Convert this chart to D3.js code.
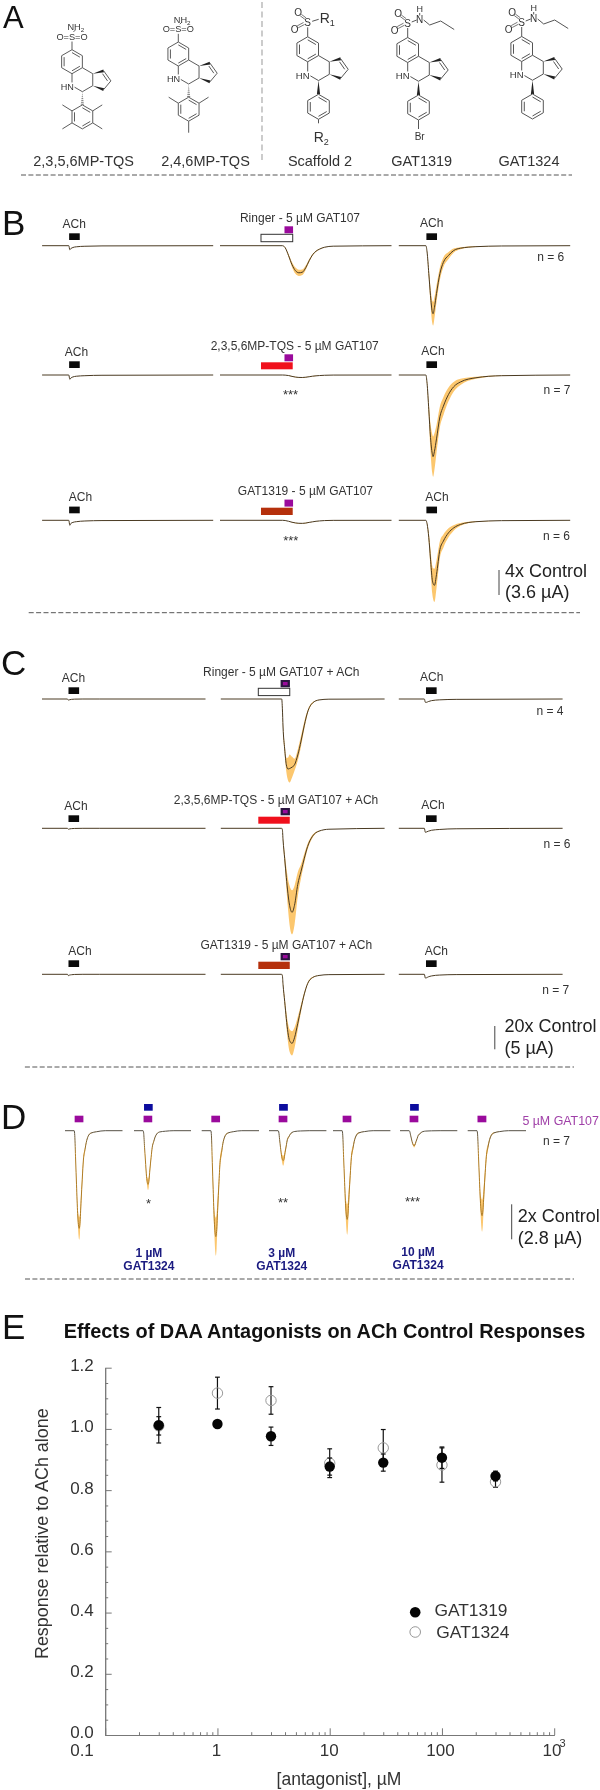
<!DOCTYPE html>
<html>
<head>
<meta charset="utf-8">
<script src="https://cdn.jsdelivr.net/npm/d3@7"></script>
<style>
  html, body { margin: 0; padding: 0; background: #fff; }
  svg { display: block; font-family: "Liberation Sans", Arial, sans-serif; filter: blur(0.3px); }
</style>
</head>
<body>
<div id="chart"></div>
<script>
// ---- panel E: dose response ----
const concentrations = [0.3, 1, 3, 10, 30, 100, 300];
const gat1319Mean = [1.012, 1.016, 0.976, 0.877, 0.890, 0.906, 0.846];
const gat1319Err  = [0.058, 0.010, 0.030, 0.028, 0.028, 0.035, 0.016];
const gat1324Mean = [1.010, 1.117, 1.093, 0.888, 0.938, 0.882, 0.827];
const gat1324Err  = [0.030, 0.052, 0.045, 0.047, 0.060, 0.056, 0.018];
const yMajorTicks = [0, 0.2, 0.4, 0.6, 0.8, 1.0, 1.2];
const yMinorTicks = [0.05, 0.1, 0.15, 0.25, 0.3, 0.35, 0.45, 0.5, 0.55, 0.65, 0.7, 0.75, 0.85, 0.9, 0.95, 1.05, 1.1, 1.15];
const xMajorTicks = [0.1, 1, 10, 100, 1000];
const xTickLabels = ["0.1", "1", "10", "100", "10"];
const xMinorTicks = [0.2, 0.3, 0.4, 0.5, 0.6, 0.7, 0.8, 0.9, 2, 3, 4, 5, 6, 7, 8, 9, 20, 30, 40, 50, 60, 70, 80, 90, 200, 300, 400, 500, 600, 700, 800, 900];

// ---- current traces, time in % of sweep, current in uA ----
const tNotch = [0, 15.6, 16.2, 16.8, 18, 20, 25, 35, 100];
const bAch1 = [0, 0, 0.58, 0.42, 0.26, 0.16, 0.08, 0.03, 0];
const bAch2 = [0, 0, 0.62, 0.44, 0.28, 0.18, 0.10, 0.04, 0];
const bAch3 = [0, 0, 0.72, 0.46, 0.30, 0.20, 0.10, 0.04, 0];
const cAch1 = [0, 0, 0.26, 0.16, 0.08, 0.03, 0, 0, 0];
const cAch2 = [0, 0, 0.22, 0.14, 0.07, 0.03, 0, 0, 0];
const cAch3 = [0, 0, 0.30, 0.18, 0.09, 0.03, 0, 0, 0];
const cEnd1 = [0, 0, 0.70, 0.72, 0.55, 0.35, 0.18, 0.08, 0];
const cEnd2 = [0, 0, 0.85, 0.80, 0.62, 0.42, 0.25, 0.10, 0];
const cEnd3 = [0, 0, 0.80, 0.76, 0.55, 0.35, 0.16, 0.06, 0];
const semNone = [0, 0, 0, 0, 0, 0, 0, 0, 0];

const tB2 = [0, 36.5, 38, 40, 42, 44, 46, 48, 50, 52, 54, 56, 58, 61, 66, 100];
const bGat1 = [0, 0, 0.29, 1.44, 2.74, 3.60, 3.90, 3.82, 3.17, 2.16, 1.30, 0.79, 0.50, 0.22, 0.07, 0];
const bGat1Sem = [0, 0, 0.05, 0.20, 0.35, 0.45, 0.45, 0.40, 0.30, 0.20, 0.12, 0.08, 0.05, 0.02, 0, 0];
const bGat2 = [0, 0, 0.02, 0.08, 0.20, 0.30, 0.35, 0.36, 0.32, 0.25, 0.17, 0.12, 0.08, 0.04, 0.01, 0];
const bGat3 = [0, 0, 0.03, 0.14, 0.28, 0.38, 0.43, 0.44, 0.40, 0.30, 0.22, 0.14, 0.09, 0.04, 0.01, 0];
const bGatSmallSem = [0, 0, 0, 0.01, 0.02, 0.03, 0.03, 0.03, 0.03, 0.02, 0.02, 0.01, 0, 0, 0, 0];

const tB3 = [0, 15.8, 16.5, 17.5, 18.5, 19.5, 20, 20.8, 22, 24, 26, 29, 32, 36, 45, 60, 100];
const bCtl1 = [0, 0, 0.9, 4.0, 7.2, 9.5, 9.8, 8.9, 6.9, 4.0, 2.4, 1.4, 0.7, 0.36, 0.14, 0.04, 0];
const bCtl1Sem = [0, 0, 0.15, 0.7, 1.2, 1.6, 1.7, 1.5, 1.2, 0.9, 0.7, 0.5, 0.3, 0.15, 0.05, 0, 0];
const bCtl2 = [0, 0, 1.2, 5.0, 9.0, 11.3, 11.76, 11.0, 9.2, 6.0, 4.5, 2.8, 1.7, 1.0, 0.4, 0.1, 0];
const bCtl2Sem = [0, 0, 0.25, 1.0, 2.0, 2.8, 2.9, 2.6, 2.0, 1.5, 1.3, 1.0, 0.7, 0.45, 0.15, 0.03, 0];
const bCtl3 = [0, 0, 0.5, 2.5, 5.6, 8.5, 9.1, 9.37, 7.8, 4.2, 3.0, 1.8, 1.1, 0.6, 0.2, 0.05, 0];
const bCtl3Sem = [0, 0, 0.15, 0.7, 1.4, 2.0, 2.2, 2.4, 2.0, 1.2, 0.95, 0.65, 0.4, 0.2, 0.06, 0, 0];

const tC2 = [0, 37.2, 37.6, 38, 39, 40, 41, 42, 43.5, 45, 47, 49, 51, 53, 56, 60, 66, 100];
const cGat1 = [0, 0, 2.1, 6.0, 10.7, 14.1, 15.0, 14.9, 14.6, 14.1, 12.0, 9.0, 5.6, 2.8, 0.86, 0.2, 0.04, 0];
const cGat1Sem = [0, 0, 0.2, 0.6, 1.0, 1.5, 2.4, 3.0, 2.2, 1.3, 1.2, 1.1, 0.8, 0.4, 0.15, 0.04, 0, 0];
const cGat2 = [0, 0, 0.3, 2.5, 6.5, 10.5, 14.0, 16.5, 18.0, 16.5, 12.0, 9.2, 6.4, 3.9, 1.7, 0.6, 0.2, 0];
const cGat2Sem = [0, 0, 0.1, 0.5, 1.2, 2.2, 3.2, 4.2, 4.7, 4.2, 2.6, 1.5, 1.0, 0.6, 0.3, 0.1, 0, 0];
const cGat3 = [0, 0, 0.3, 2.2, 5.8, 9.5, 12.5, 14.2, 14.8, 13.6, 10.5, 7.2, 4.2, 2.0, 0.7, 0.25, 0.07, 0];
const cGat3Sem = [0, 0, 0.1, 0.4, 0.9, 1.5, 2.0, 2.4, 2.6, 2.2, 1.4, 0.8, 0.4, 0.2, 0.1, 0.03, 0, 0];

const tD = [0, 16, 17, 18.5, 20, 22, 24.7, 26, 28, 30, 32, 34.7, 37, 40, 45, 55, 70, 100];
const dCtl1 = [0, 0, 0.38, 2.3, 4.2, 6.5, 7.66, 7.3, 5.5, 3.8, 2.3, 1.5, 0.92, 0.46, 0.19, 0.08, 0, 0];
const dAnt1 = [0, 0, 0.20, 1.3, 2.3, 3.6, 4.21, 4.0, 3.0, 2.1, 1.3, 0.84, 0.5, 0.25, 0.1, 0.04, 0, 0];
const dCtl2 = [0, 0, 0.40, 2.5, 4.6, 7.1, 8.31, 7.9, 6.0, 4.2, 2.5, 1.7, 1.0, 0.5, 0.2, 0.08, 0, 0];
const dAnt2 = [0, 0, 0.10, 0.7, 1.3, 2.0, 2.35, 2.25, 1.7, 1.2, 0.7, 0.47, 0.28, 0.14, 0.06, 0.02, 0, 0];
const dCtl3 = [0, 0, 0.35, 2.1, 3.8, 5.9, 6.96, 6.6, 5.0, 3.5, 2.1, 1.4, 0.84, 0.42, 0.17, 0.07, 0, 0];
const dAnt3 = [0, 0, 0.06, 0.35, 0.65, 1.0, 1.18, 1.12, 0.85, 0.6, 0.35, 0.24, 0.14, 0.07, 0.03, 0.01, 0, 0];
const dCtl4 = [0, 0, 0.33, 2.0, 3.7, 5.7, 6.67, 6.3, 4.8, 3.3, 2.0, 1.3, 0.8, 0.4, 0.17, 0.07, 0, 0];
const dCtl1Sem = [0, 0, 0.03, 0.13, 0.27, 0.53, 0.89, 0.8, 0.53, 0.36, 0.27, 0.18, 0.11, 0.05, 0.03, 0.01, 0, 0];
const dAnt1Sem = [0, 0, 0.01, 0.07, 0.13, 0.26, 0.44, 0.4, 0.26, 0.18, 0.13, 0.09, 0.05, 0.03, 0.01, 0, 0, 0];
const dCtl2Sem = [0, 0, 0.04, 0.22, 0.45, 0.9, 1.49, 1.34, 0.9, 0.6, 0.45, 0.3, 0.18, 0.09, 0.04, 0.01, 0, 0];
const dAnt2Sem = [0, 0, 0.01, 0.06, 0.12, 0.23, 0.39, 0.35, 0.23, 0.16, 0.12, 0.08, 0.05, 0.02, 0.01, 0, 0, 0];
const dCtl3Sem = [0, 0, 0.04, 0.18, 0.36, 0.72, 1.2, 1.08, 0.72, 0.48, 0.36, 0.24, 0.14, 0.07, 0.04, 0.01, 0, 0];
const dAnt3Sem = [0, 0, 0, 0.02, 0.04, 0.08, 0.13, 0.12, 0.08, 0.05, 0.04, 0.03, 0.02, 0.01, 0, 0, 0, 0];
const dCtl4Sem = [0, 0, 0.04, 0.19, 0.38, 0.75, 1.25, 1.12, 0.75, 0.5, 0.38, 0.25, 0.15, 0.08, 0.04, 0.01, 0, 0];

const dConcLabels = ["1 µM", "3 µM", "10 µM"];

const BLACK = "#0a0a0a", PURPLE = "#9a0a9c", RED = "#f0101c", BROWN = "#b5300c", BLUE = "#0c0c9e", NAVY = "#2a1440";
const SEM = "#fcc76e", TRACE = "#4a3a22", INK = "#333";

const svg = d3.select("#chart").append("svg").attr("width", 600).attr("height", 1790);
svg.append("rect").attr("width", 600).attr("height", 1790).attr("fill", "#fff");

// panel D traces fade from a dark baseline to the orange band deeper down
const fade = svg.append("defs").append("linearGradient").attr("id", "dFade")
  .attr("gradientUnits", "userSpaceOnUse").attr("x1", 0).attr("x2", 0).attr("y1", 0).attr("y2", 22);
fade.append("stop").attr("offset", 0).attr("stop-color", "#555045");
fade.append("stop").attr("offset", 1).attr("stop-color", "#ae7c26");

function txt(x, y, s, size, opts) {
  opts = opts || {};
  return svg.append("text").attr("x", x).attr("y", y).attr("dy", opts.dy || "0.35em")
    .attr("text-anchor", opts.anchor || "middle")
    .attr("font-size", size).attr("font-weight", opts.weight || null)
    .attr("fill", opts.fill || INK).text(s);
}

function dashed(x1, x2, y) {
  svg.append("line").attr("x1", x1).attr("x2", x2).attr("y1", y).attr("y2", y)
    .attr("stroke", "#555").attr("stroke-width", 1).attr("stroke-dasharray", "5,2.4");
}

function scaleBar(x, y1, y2, label1, label2, lx, ly1, ly2) {
  svg.append("line").attr("x1", x).attr("x2", x).attr("y1", y1).attr("y2", y2).attr("stroke", "#444").attr("stroke-width", 1);
  txt(lx, ly1, label1, 18, { anchor: "start", fill: "#222" });
  txt(lx, ly2, label2, 18, { anchor: "start", fill: "#222" });
}

function drawTrace(g, x, y, t, mean, sem, lineColor) {
  const rows = t.map((d, i) => ({ t: d, m: mean[i], s: sem[i] }));
  const area = d3.area().curve(d3.curveMonotoneX)
    .x(d => x(d.t)).y0(d => y(d.m - d.s)).y1(d => y(d.m + d.s));
  const line = d3.line().curve(d3.curveMonotoneX).x(d => x(d.t)).y(d => y(d.m));
  g.append("path").attr("d", area(rows)).attr("fill", SEM);
  g.append("path").attr("d", line(rows)).attr("fill", "none").attr("stroke", lineColor || TRACE).attr("stroke-width", 1);
}

// drug application bar, t0/t1 in sweep %, y in px from the baseline
function bar(g, x, t0, t1, y0, y1, fill, stroke) {
  g.append("rect").attr("x", x(t0)).attr("width", x(t1) - x(t0)).attr("y", y0).attr("height", y1 - y0)
    .attr("fill", fill).attr("stroke", stroke || "none").attr("stroke-width", stroke ? 1 : 0);
}

// ---- panel letters ----
[["A", 3, 17, 31], ["B", 2, 222.5, 35], ["C", 1, 662.5, 35], ["D", 1, 1116.5, 35], ["E", 2, 1326.5, 35]].forEach(d => {
  txt(d[1], d[2], d[0], d[3], { anchor: "start", fill: "#111" });
});

// ---- panel A: structures ----
const bondColor = "#555";
function drawMolecule(cx, cy, k, m) {
  const g = svg.append("g").attr("transform", `translate(${cx},${cy}) scale(${k})`);
  const bond = (a, b, w) => g.append("line").attr("x1", a[0]).attr("y1", a[1]).attr("x2", b[0]).attr("y2", b[1])
    .attr("stroke", bondColor).attr("stroke-width", w || 1);
  const ring = (ox, oy, doubles) => {
    const pts = [[0, -12.5], [10.8, -6.25], [10.8, 6.25], [0, 12.5], [-10.8, 6.25], [-10.8, -6.25]].map(p => [p[0] + ox, p[1] + oy]);
    pts.forEach((p, i) => bond(p, pts[(i + 1) % 6]));
    doubles.forEach(i => {
      const a = pts[i], b = pts[(i + 1) % 6];
      const inner = q => [ox + (q[0] - ox) * 0.76, oy + (q[1] - oy) * 0.76];
      bond(inner(a), inner(b));
    });
  };
  const wedge = (a, b, wide) => {
    const dx = b[0] - a[0], dy = b[1] - a[1], len = Math.hypot(dx, dy);
    const nx = -dy / len * wide, ny = dx / len * wide;
    g.append("path").attr("d", `M${a[0]},${a[1]}L${b[0] + nx},${b[1] + ny}L${b[0] - nx},${b[1] - ny}Z`).attr("fill", "#222");
  };
  const label = (x, y, s, size, halo) => {
    const t = g.append("text").attr("x", x).attr("y", y).attr("dy", "0.35em").attr("text-anchor", "middle")
      .attr("font-size", size).attr("fill", "#333").text(s);
    if (halo) t.attr("stroke", "#fff").attr("stroke-width", 3).attr("paint-order", "stroke");
    return t;
  };

  ring(0, 0, [0, 2, 4]);
  // piperidine ring and cyclopentene
  [[[10.8, 6.25], [21.6, 12.5]], [[21.6, 12.5], [21.6, 25]], [[21.6, 25], [10.8, 31.25]], [[10.8, 31.25], [0, 25]], [[0, 25], [0, 12.5]]]
    .forEach(b => bond(b[0], b[1]));
  wedge([21.6, 12.5], [33, 9.5], 1.5);
  wedge([21.6, 25], [33, 29], 1.5);
  bond([33, 9.5], [40.5, 20]);
  bond([31.8, 12.5], [37, 20]);
  bond([40.5, 20], [33, 29]);
  label(-5, 26, "HN", 9.5, true);

  // aryl substituent at C4
  if (m.hashed) {
    [0.1, 0.25, 0.4, 0.55, 0.7, 0.85, 1].forEach(f => {
      bond([10.8 - f * 1.6, 31.25 + f * 13], [10.8 + f * 1.6, 31.25 + f * 13], 0.8);
    });
  } else {
    wedge([10.8, 31.25], [10.8, 45], 1.6);
  }
  ring(10.8, 57.5, [0, 2, 4]);
  (m.methyls || []).forEach(v => bond(v[0], v[1]));

  // sulfonyl group
  if (m.sulfamide) {
    label(0, -26, "O=S=O", 9.6);
    bond([0, -21], [0, -12.5]);
    bond([1.5, -31], [3.5, -33]);
    g.append("text").attr("x", 4).attr("y", -36).attr("dy", "0.35em").attr("text-anchor", "middle")
      .attr("font-size", 9.6).attr("fill", "#333").text("NH").append("tspan").attr("font-size", 6.5).attr("dy", "0.3em").text("2");
  } else {
    bond([0, -22], [0, -12.5]);
    label(0, -27, "S", 10);
    [[[-2.8, -30], [-7.5, -33.5]], [[-1.6, -31.4], [-6.4, -35]], [[-3.2, -24.8], [-9.5, -21.5]], [[-4.2, -26.8], [-10.5, -23.4]]].forEach(b => bond(b[0], b[1], 0.8));
    label(-9.5, -36.5, "O", 10);
    label(-13, -20, "O", 10);
    if (m.r1) {
      bond([4.5, -28], [11, -30]);
      g.append("text").attr("x", 12).attr("y", -31).attr("dy", "0.35em").attr("font-size", 14).attr("fill", "#333")
        .text("R").append("tspan").attr("font-size", 9).attr("dy", "0.3em").text("1");
    } else {
      bond([4, -28], [9, -30]);
      label(12, -31, "N", 10);
      label(12, -41, "H", 9);
      bond([12, -34.5], [12, -37]);
      bond([16, -30], [22, -25]);
      bond([22, -25], [33, -29]);
      bond([33, -29], [46.5, -20.5]);
    }
  }
  if (m.r2) {
    bond([10.8, 70], [10.8, 74]);
    g.append("text").attr("x", 6).attr("y", 88).attr("dy", "0.35em").attr("font-size", 14).attr("fill", "#333")
      .text("R").append("tspan").attr("font-size", 9).attr("dy", "0.3em").text("2");
  }
  if (m.br) {
    bond([10.8, 70], [10.8, 79]);
    label(12, 86, "Br", 10);
  }
}

const tetraMethyl = [[[0, 51.25], [-10, 45]], [[21.6, 51.25], [31.5, 45]], [[21.6, 63.75], [31.5, 70]], [[0, 63.75], [-10, 70]]];
const triMethyl = [[[0, 51.25], [-10, 45]], [[21.6, 51.25], [31.5, 45]], [[10.8, 70], [10.8, 82]]];
drawMolecule(72, 61.7, 0.96, { sulfamide: true, hashed: true, methyls: tetraMethyl });
drawMolecule(178.3, 54, 0.96, { sulfamide: true, hashed: true, methyls: triMethyl });
drawMolecule(307.7, 49.3, 1, { r1: true, r2: true });
drawMolecule(407.7, 50, 1, { br: true });
drawMolecule(521.7, 49, 1, {});

svg.append("line").attr("x1", 262).attr("x2", 262).attr("y1", 2).attr("y2", 163)
  .attr("stroke", "#aaa").attr("stroke-width", 1.2).attr("stroke-dasharray", "6,3.5");

[["2,3,5,6MP-TQS", 83.6], ["2,4,6MP-TQS", 205.5], ["Scaffold 2", 320], ["GAT1319", 421.7], ["GAT1324", 529]].forEach(d => {
  txt(d[1], 160.5, d[0], 14.5);
});
dashed(21, 572, 175);

// ---- panel B ----
const yB = d3.scaleLinear().domain([0, 1]).range([0, 6.94]);
const bCols = [d3.scaleLinear([0, 100], [42.1, 213.2]), d3.scaleLinear([0, 100], [220, 391.5]), d3.scaleLinear([0, 100], [398.8, 570.2])];
const bRows = [
  { base: 245.7, ach: bAch1, gat: bGat1, gatSem: bGat1Sem, ctl: bCtl1, ctlSem: bCtl1Sem },
  { base: 375, ach: bAch2, gat: bGat2, gatSem: bGatSmallSem, ctl: bCtl2, ctlSem: bCtl2Sem },
  { base: 520.3, ach: bAch3, gat: bGat3, gatSem: bGatSmallSem, ctl: bCtl3, ctlSem: bCtl3Sem }
];
bRows.forEach((r, i) => {
  const g = svg.append("g").attr("transform", `translate(0,${r.base})`);
  drawTrace(g, bCols[0], yB, tNotch, r.ach, semNone);
  drawTrace(g, bCols[1], yB, tB2, r.gat, r.gatSem);
  drawTrace(g, bCols[2], yB, tB3, r.ctl, r.ctlSem);
  const a0 = i === 0 ? -12.4 : -13.7, a1 = i === 0 ? -5.7 : -7;
  bar(g, bCols[0], 15.8, 22, a0, a1, BLACK);
  bar(g, bCols[2], 16.1, 22.3, a0, a1, BLACK);
  bar(g, bCols[1], 37.6, 42.6, a0 - 7, a0, PURPLE);
  if (i === 0) bar(g, bCols[1], 23.9, 42.4, -11.4, -4, "#fff", "#333");
  if (i === 1) bar(g, bCols[1], 23.9, 42.4, -12.7, -5.7, RED);
  if (i === 2) bar(g, bCols[1], 23.9, 42.4, -12.6, -5.3, BROWN);
});
[[74.2, 223.3], [431.7, 223], [76.5, 351.7], [433, 351], [80.4, 496.7], [437, 496.7]].forEach(p => txt(p[0], p[1], "ACh", 12));
txt(300, 217.7, "Ringer - 5 µM GAT107", 12);
txt(294.7, 345.7, "2,3,5,6MP-TQS - 5 µM GAT107", 12);
txt(305.4, 490.7, "GAT1319 - 5 µM GAT107", 12);
txt(550.7, 256.7, "n = 6", 12);
txt(557, 390, "n = 7", 12);
txt(556.4, 535.7, "n = 6", 12);
txt(290.5, 394, "***", 13);
txt(290.8, 540, "***", 13);
scaleBar(499, 570, 595, "4x Control", "(3.6 µA)", 505, 570.7, 591.7);
dashed(28.7, 580, 612.7);

// ---- panel C ----
const yC = d3.scaleLinear().domain([0, 1]).range([0, 4.667]);
const cCols = [d3.scaleLinear([0, 100], [42, 205.5]), d3.scaleLinear([0, 100], [220.8, 384.6]), d3.scaleLinear([0, 100], [398.8, 562.6])];
const cRows = [
  { base: 699, a: -11.7, ach: cAch1, gat: cGat1, gatSem: cGat1Sem, end: cEnd1 },
  { base: 828.3, a: -13, ach: cAch2, gat: cGat2, gatSem: cGat2Sem, end: cEnd2 },
  { base: 974.3, a: -14, ach: cAch3, gat: cGat3, gatSem: cGat3Sem, end: cEnd3 }
];
cRows.forEach((r, i) => {
  const g = svg.append("g").attr("transform", `translate(0,${r.base})`);
  drawTrace(g, cCols[0], yC, tNotch, r.ach, semNone);
  drawTrace(g, cCols[1], yC, tC2, r.gat, r.gatSem);
  drawTrace(g, cCols[2], yC, tNotch, r.end, semNone);
  bar(g, cCols[0], 16.2, 22.7, r.a, r.a + 6.7, BLACK);
  bar(g, cCols[2], 16.6, 23.1, r.a, r.a + 6.7, BLACK);
  bar(g, cCols[1], 36.5, 42.2, r.a - 7.3, r.a, NAVY);
  bar(g, cCols[1], 37.9, 40.8, r.a - 5.3, r.a - 2, PURPLE);
  if (i === 0) bar(g, cCols[1], 22.9, 42.1, r.a + 1, r.a + 8.3, "#fff", "#333");
  if (i === 1) bar(g, cCols[1], 22.9, 42.1, r.a + 1.4, r.a + 8.4, RED);
  if (i === 2) bar(g, cCols[1], 22.9, 42.1, r.a + 1.4, r.a + 8.7, BROWN);
});
[[73.5, 677.3], [431.7, 677], [76, 805.7], [433, 805], [80, 950.7], [436.3, 950.7]].forEach(p => txt(p[0], p[1], "ACh", 12));
txt(281.3, 671.7, "Ringer - 5 µM GAT107 + ACh", 12);
txt(276, 800, "2,3,5,6MP-TQS - 5 µM GAT107 + ACh", 12);
txt(286.3, 944.3, "GAT1319 - 5 µM GAT107 + ACh", 12);
txt(550, 710.7, "n = 4", 12);
txt(557, 844, "n = 6", 12);
txt(555.7, 989.7, "n = 7", 12);
scaleBar(494.8, 1026, 1049.3, "20x Control", "(5 µA)", 504.4, 1025.7, 1047.3);
dashed(24.9, 574, 1067);

// ---- panel D ----
const yD = d3.scaleLinear().domain([0, 1]).range([0, 12.75]);
const dBase = 1130.7;
const dSweeps = [
  { x: [65, 122.5], m: dCtl1, s: dCtl1Sem },
  { x: [134, 191], m: dAnt1, s: dAnt1Sem, blue: true },
  { x: [201.7, 259], m: dCtl2, s: dCtl2Sem },
  { x: [269, 326.4], m: dAnt2, s: dAnt2Sem, blue: true },
  { x: [333, 390.4], m: dCtl3, s: dCtl3Sem },
  { x: [400, 457.3], m: dAnt3, s: dAnt3Sem, blue: true },
  { x: [467.7, 526], m: dCtl4, s: dCtl4Sem }
];
const dGroup = svg.append("g").attr("transform", `translate(0,${dBase})`);
dSweeps.forEach(d => {
  const x = d3.scaleLinear([0, 100], d.x);
  drawTrace(dGroup, x, yD, tD, d.m, d.s, "url(#dFade)");
  bar(dGroup, x, 16.8, 32, -15, -8.4, PURPLE);
  if (d.blue) bar(dGroup, x, 17.6, 32.8, -26.7, -20, BLUE);
});
txt(522.4, 1121, "5 µM GAT107", 12.4, { anchor: "start", fill: "#a040a8" });
txt(556.4, 1140.3, "n = 7", 12);
txt(148.5, 1203.5, "*", 13);
txt(283, 1202, "**", 13);
txt(412.5, 1201, "***", 13);
txt(148.9, 1252.7, dConcLabels[0], 12, { weight: "bold", fill: "#1a1a80" });
txt(148.9, 1266, "GAT1324", 12, { weight: "bold", fill: "#1a1a80" });
txt(281.7, 1252.7, dConcLabels[1], 12, { weight: "bold", fill: "#1a1a80" });
txt(281.7, 1266, "GAT1324", 12, { weight: "bold", fill: "#1a1a80" });
txt(418, 1251.7, dConcLabels[2], 12, { weight: "bold", fill: "#1a1a80" });
txt(418, 1265, "GAT1324", 12, { weight: "bold", fill: "#1a1a80" });
scaleBar(511.7, 1204.3, 1239.3, "2x Control", "(2.8 µA)", 517.8, 1216, 1237.3);
dashed(25, 574, 1279);

// ---- panel E ----
const x = d3.scaleLog().domain([0.1, 1000]).range([105.2, 554.2]);
const y = d3.scaleLinear().domain([0, 1.2]).range([1735, 1367.7]);

txt(324.5, 1331, "Effects of DAA Antagonists on ACh Control Responses", 19.9, { weight: "bold", fill: "#111" });

const axisColor = "#777";
function styleAxis(g) {
  g.selectAll("line").attr("stroke", axisColor);
  g.selectAll("path").attr("stroke", axisColor);
  g.selectAll("text").attr("fill", "#333").attr("font-size", 17).attr("font-family", null);
}
svg.append("g").attr("transform", "translate(105.2,0)")
  .call(d3.axisLeft(y).tickValues(yMinorTicks).tickSize(-3).tickFormat("").tickSizeOuter(0)).call(styleAxis);
const yAxisG = svg.append("g").attr("transform", "translate(105.2,0)")
  .call(d3.axisLeft(y).tickValues(yMajorTicks).tickSize(-6.5).tickPadding(11.4).tickSizeOuter(0).tickFormat(d3.format(".1f"))).call(styleAxis);
yAxisG.selectAll("text").attr("dy", "0.17em");

svg.append("g").attr("transform", "translate(0,1735)")
  .call(d3.axisBottom(x).tickValues(xMinorTicks).tickSize(-2.8).tickFormat("").tickSizeOuter(0)).call(styleAxis);
const xAxisG = svg.append("g").attr("transform", "translate(0,1735)")
  .call(d3.axisBottom(x).tickValues(xMajorTicks).tickSize(-6.7).tickPadding(9).tickSizeOuter(0)
    .tickFormat((d, i) => xTickLabels[i])).call(styleAxis);
const xLabelShift = [-23.7, -1.4, -1, -2, -2.7];
xAxisG.selectAll("text").attr("x", (d, i) => xLabelShift[i]);
txt(562.6, 1742.7, "3", 11);

txt(339, 1778.7, "[antagonist], µM", 17.5);
txt(0, 0, "Response relative to ACh alone", 17.9).attr("x", null).attr("y", null)
  .attr("transform", "translate(42,1533.7) rotate(-90)");

function errBars(mean, err) {
  const g = svg.append("g").attr("stroke", "#111").attr("stroke-width", 1.2);
  concentrations.forEach((c, i) => {
    const cx = x(c), hi = y(mean[i] + err[i]), lo = y(mean[i] - err[i]);
    g.append("line").attr("x1", cx).attr("x2", cx).attr("y1", hi).attr("y2", lo);
    g.append("line").attr("x1", cx - 2.4).attr("x2", cx + 2.4).attr("y1", hi).attr("y2", hi);
    g.append("line").attr("x1", cx - 2.4).attr("x2", cx + 2.4).attr("y1", lo).attr("y2", lo);
  });
}
errBars(gat1324Mean, gat1324Err);
svg.append("g").selectAll("circle").data(concentrations).join("circle")
  .attr("cx", d => x(d)).attr("cy", (d, i) => y(gat1324Mean[i])).attr("r", 5.2)
  .attr("fill", "none").attr("stroke", "#999").attr("stroke-width", 1);
errBars(gat1319Mean, gat1319Err);
svg.append("g").selectAll("circle").data(concentrations).join("circle")
  .attr("cx", d => x(d)).attr("cy", (d, i) => y(gat1319Mean[i])).attr("r", 5.2)
  .attr("fill", "#050505");

// legend
svg.append("circle").attr("cx", 415.2).attr("cy", 1612.3).attr("r", 5.3).attr("fill", "#050505");
svg.append("circle").attr("cx", 415.2).attr("cy", 1632).attr("r", 5.3).attr("fill", "none").attr("stroke", "#999");
txt(434.4, 1610, "GAT1319", 17.4, { anchor: "start" });
txt(436.3, 1632.3, "GAT1324", 17.4, { anchor: "start" });
</script>
</body>
</html>
